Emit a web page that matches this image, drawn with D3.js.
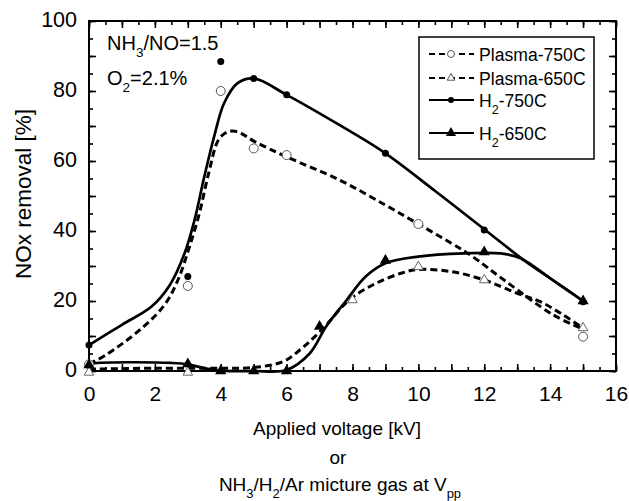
<!DOCTYPE html>
<html>
<head>
<meta charset="utf-8">
<script src="https://cdn.jsdelivr.net/npm/d3@7"></script>
<style>
  body { margin: 0; background: #fff; }
  text { font-family: "Liberation Sans", Arial, sans-serif; fill: #000; }
</style>
</head>
<body>
<script>
// measured points
var plasma750X = [0, 3, 4, 5, 6, 10, 15];
var plasma750Y = [1.9, 24.3, 80, 63.6, 61.7, 42, 9.8];
var plasma650X = [0, 3, 8, 10, 12, 15];
var plasma650Y = [-0.4, -0.4, 20.3, 29.8, 26, 12.3];
var h2750X = [0, 3, 4, 5, 6, 9, 12, 15];
var h2750Y = [7.4, 27, 88.4, 83.6, 78.9, 62.2, 40.3, 19.8];
var h2650X = [0, 3, 4, 5, 6, 7, 9, 12, 15];
var h2650Y = [1.7, 2, 0, 0, 0, 12.7, 31.6, 34, 20];

// fitted curves
var fitP750X = [0, 0.5, 1.6, 2.3, 2.7, 3.05, 3.35, 3.62, 3.93, 4.2, 4.5, 5.04, 6, 7.6, 9, 10, 11, 11.6, 12.6, 14.1, 15];
var fitP750Y = [2, 4.5, 12.2, 19, 26, 35.5, 45, 56, 66, 68.3, 68.4, 65.5, 61.2, 54.6, 47.4, 42, 36.5, 33, 26, 16, 12];
var fitP650X = [0, 2, 4, 5, 5.9, 6.4, 6.8, 7.2, 7.9, 8.7, 9.5, 10, 11, 12, 13, 13.7, 14.4, 15];
var fitP650Y = [0.5, 0.8, 0.8, 1, 2.7, 6, 9.3, 13.1, 20.3, 25, 28, 29, 28.4, 26, 22.2, 19.8, 16, 12.2];
var fitH750X = [0, 1, 1.9, 2.45, 2.9, 3.2, 3.5, 3.8, 4.1, 4.5, 5, 6, 7.6, 9, 10.5, 12, 13.2, 14, 15];
var fitH750Y = [7.4, 13.2, 18.4, 24.5, 33.6, 43, 55.5, 67, 76.5, 82.2, 83.6, 78.9, 70.3, 62.2, 51.5, 40.5, 31.7, 26.5, 20];
var fitH650X = [0, 1.2, 2.5, 3, 3.5, 4, 5, 6, 6.7, 7.2, 7.8, 8.4, 9, 10, 11.4, 12.5, 13.1, 14, 15];
var fitH650Y = [2.2, 2.5, 2.3, 1.9, 0.8, 0.1, 0, 0.3, 5, 12.7, 20, 27, 30.8, 32.7, 33.6, 33.6, 32.2, 26.5, 20];

var xTicks = [0, 2, 4, 6, 8, 10, 12, 14, 16];
var yTicks = [0, 20, 40, 60, 80, 100];

var W = 629, H = 501;
var pLeft = 89, pRight = 616, pTop = 21, pBottom = 371;

var svg = d3.select("body").append("svg")
  .attr("width", W)
  .attr("height", H);

var x = d3.scaleLinear().domain([0, 16]).range([pLeft, pRight]);
var y = d3.scaleLinear().domain([0, 100]).range([pBottom, pTop]);

function zip(xs, ys) {
  return xs.map(function(d, i) { return [d, ys[i]]; });
}

// minor and major ticks, all inward
var halfSteps = d3.range(0, 16.01, 0.5);
var oneSteps = d3.range(0, 16.01, 1);
var fiveSteps = d3.range(0, 100.01, 5);
var tenSteps = d3.range(0, 100.01, 10);

function tickAxis(g, axis) {
  g.call(axis);
  g.selectAll("path").remove();
  g.selectAll("line").attr("stroke", "#000").attr("stroke-width", 1.6);
}

var sides = [
  {gen: d3.axisBottom, t: "translate(0," + pBottom + ")", s: x, minor: halfSteps, major: oneSteps},
  {gen: d3.axisTop, t: "translate(0," + pTop + ")", s: x, minor: halfSteps, major: oneSteps},
  {gen: d3.axisLeft, t: "translate(" + pLeft + ",0)", s: y, minor: fiveSteps, major: tenSteps},
  {gen: d3.axisRight, t: "translate(" + pRight + ",0)", s: y, minor: fiveSteps, major: tenSteps}
];
sides.forEach(function(sd) {
  svg.append("g").attr("transform", sd.t)
    .call(tickAxis, sd.gen(sd.s).tickValues(sd.minor).tickSize(-4).tickFormat(""));
  svg.append("g").attr("transform", sd.t)
    .call(tickAxis, sd.gen(sd.s).tickValues(sd.major).tickSize(-7).tickFormat(""));
});

// tick labels
var xAxis = d3.axisBottom(x).tickValues(xTicks).tickSize(0).tickPadding(15).tickFormat(d3.format("d"));
var gx = svg.append("g").attr("transform", "translate(0," + pBottom + ")").call(xAxis);
gx.select(".domain").remove();
gx.selectAll("text").attr("font-size", 21).style("font-family", "Liberation Sans, Arial, sans-serif");

var yAxis = d3.axisLeft(y).tickValues(yTicks).tickSize(0).tickPadding(12).tickFormat(d3.format("d"));
var gy = svg.append("g").attr("transform", "translate(" + pLeft + ",0)").call(yAxis);
gy.select(".domain").remove();
gy.selectAll("text").attr("font-size", 21.5).attr("dy", "0.25em").style("font-family", "Liberation Sans, Arial, sans-serif");

// frame
svg.append("rect")
  .attr("x", pLeft).attr("y", pTop)
  .attr("width", pRight - pLeft).attr("height", pBottom - pTop)
  .attr("fill", "none").attr("stroke", "#000").attr("stroke-width", 2);

// curves
var line = d3.line()
  .x(function(d) { return x(d[0]); })
  .y(function(d) { return y(d[1]); })
  .curve(d3.curveCatmullRom.alpha(0.5));

var curves = [
  {pts: zip(fitP750X, fitP750Y), dash: "7,4"},
  {pts: zip(fitP650X, fitP650Y), dash: "7,4"},
  {pts: zip(fitH750X, fitH750Y), dash: null},
  {pts: zip(fitH650X, fitH650Y), dash: null}
];
curves.forEach(function(c) {
  svg.append("path")
    .datum(c.pts)
    .attr("d", line)
    .attr("fill", "none")
    .attr("stroke", "#000")
    .attr("stroke-width", c.dash ? 3 : 2.7)
    .attr("stroke-dasharray", c.dash);
});

// markers
var triOpen = d3.symbol().type(d3.symbolTriangle).size(40);
var triFill = d3.symbol().type(d3.symbolTriangle).size(55);

function drawMarkers(g, pts, kind) {
  if (kind === "openCircle") {
    g.selectAll("circle").data(pts).enter().append("circle")
      .attr("cx", function(d) { return x(d[0]); })
      .attr("cy", function(d) { return y(d[1]); })
      .attr("r", 4.5).attr("fill", "#fff").attr("stroke", "#555").attr("stroke-width", 1);
  } else if (kind === "fillCircle") {
    g.selectAll("circle").data(pts).enter().append("circle")
      .attr("cx", function(d) { return x(d[0]); })
      .attr("cy", function(d) { return y(d[1]); })
      .attr("r", 3.5).attr("fill", "#000");
  } else if (kind === "openTri") {
    g.selectAll("path").data(pts).enter().append("path")
      .attr("d", triOpen)
      .attr("transform", function(d) { return "translate(" + x(d[0]) + "," + y(d[1]) + ")"; })
      .attr("fill", "#fff").attr("stroke", "#666").attr("stroke-width", 1);
  } else {
    g.selectAll("path").data(pts).enter().append("path")
      .attr("d", triFill)
      .attr("transform", function(d) { return "translate(" + x(d[0]) + "," + y(d[1]) + ")"; })
      .attr("fill", "#000");
  }
}

drawMarkers(svg.append("g"), zip(plasma750X, plasma750Y), "openCircle");
drawMarkers(svg.append("g"), zip(plasma650X, plasma650Y), "openTri");
drawMarkers(svg.append("g"), zip(h2750X, h2750Y), "fillCircle");
drawMarkers(svg.append("g"), zip(h2650X, h2650Y), "fillTri");

// annotation
var ann1 = svg.append("text").attr("x", 107).attr("y", 50).attr("font-size", 20);
ann1.append("tspan").text("NH");
ann1.append("tspan").attr("font-size", 13.5).attr("dy", 7).text("3");
ann1.append("tspan").attr("dy", -7).text("/NO=1.5");
var ann2 = svg.append("text").attr("x", 107).attr("y", 85).attr("font-size", 20);
ann2.append("tspan").text("O");
ann2.append("tspan").attr("font-size", 13.5).attr("dy", 7).text("2");
ann2.append("tspan").attr("dy", -7).text("=2.1%");

// legend
var legend = svg.append("g");
legend.append("rect")
  .attr("x", 419).attr("y", 37).attr("width", 175).attr("height", 122)
  .attr("fill", "#fff").attr("stroke", "#000").attr("stroke-width", 1.5);

var legendRows = [
  {name: "Plasma-750C", sub: null, rest: null, dash: "6,4", kind: "openCircle", y: 54},
  {name: "Plasma-650C", sub: null, rest: null, dash: "6,4", kind: "openTri", y: 78},
  {name: "H", sub: "2", rest: "-750C", dash: null, kind: "fillCircle", y: 100},
  {name: "H", sub: "2", rest: "-650C", dash: null, kind: "fillTri", y: 133}
];
legendRows.forEach(function(r) {
  legend.append("line")
    .attr("x1", 429).attr("x2", 474).attr("y1", r.y).attr("y2", r.y)
    .attr("stroke", "#000").attr("stroke-width", 2)
    .attr("stroke-dasharray", r.dash);
  if (r.kind === "openCircle") {
    legend.append("circle").attr("cx", 451).attr("cy", r.y).attr("r", 3.5)
      .attr("fill", "#fff").attr("stroke", "#555");
  } else if (r.kind === "openTri") {
    legend.append("path").attr("d", d3.symbol().type(d3.symbolTriangle).size(25))
      .attr("transform", "translate(451," + r.y + ")")
      .attr("fill", "#fff").attr("stroke", "#555");
  } else if (r.kind === "fillCircle") {
    legend.append("circle").attr("cx", 451).attr("cy", r.y).attr("r", 3).attr("fill", "#000");
  } else {
    legend.append("path").attr("d", d3.symbol().type(d3.symbolTriangle).size(45))
      .attr("transform", "translate(451," + r.y + ")").attr("fill", "#000");
  }
  var t = legend.append("text").attr("x", 479).attr("y", r.y + 7).attr("font-size", 17.6);
  t.append("tspan").text(r.name);
  if (r.sub) {
    t.append("tspan").attr("font-size", 12.5).attr("dy", 7).text(r.sub);
    t.append("tspan").attr("dy", -7).text(r.rest);
  }
});

// axis titles
svg.append("text")
  .attr("transform", "translate(31,194) rotate(-90)")
  .attr("text-anchor", "middle").attr("font-size", 22.5)
  .text("NOx removal [%]");

svg.append("text").attr("x", 337).attr("y", 435)
  .attr("text-anchor", "middle").attr("font-size", 19)
  .text("Applied voltage [kV]");
svg.append("text").attr("x", 338).attr("y", 464)
  .attr("text-anchor", "middle").attr("font-size", 19)
  .text("or");
var t3 = svg.append("text").attr("x", 340).attr("y", 491)
  .attr("text-anchor", "middle").attr("font-size", 19);
t3.append("tspan").text("NH");
t3.append("tspan").attr("font-size", 13).attr("dy", 7).text("3");
t3.append("tspan").attr("dy", -7).text("/H");
t3.append("tspan").attr("font-size", 13).attr("dy", 7).text("2");
t3.append("tspan").attr("dy", -7).text("/Ar micture gas at V");
t3.append("tspan").attr("font-size", 13).attr("dy", 7).text("pp");
</script>
</body>
</html>
